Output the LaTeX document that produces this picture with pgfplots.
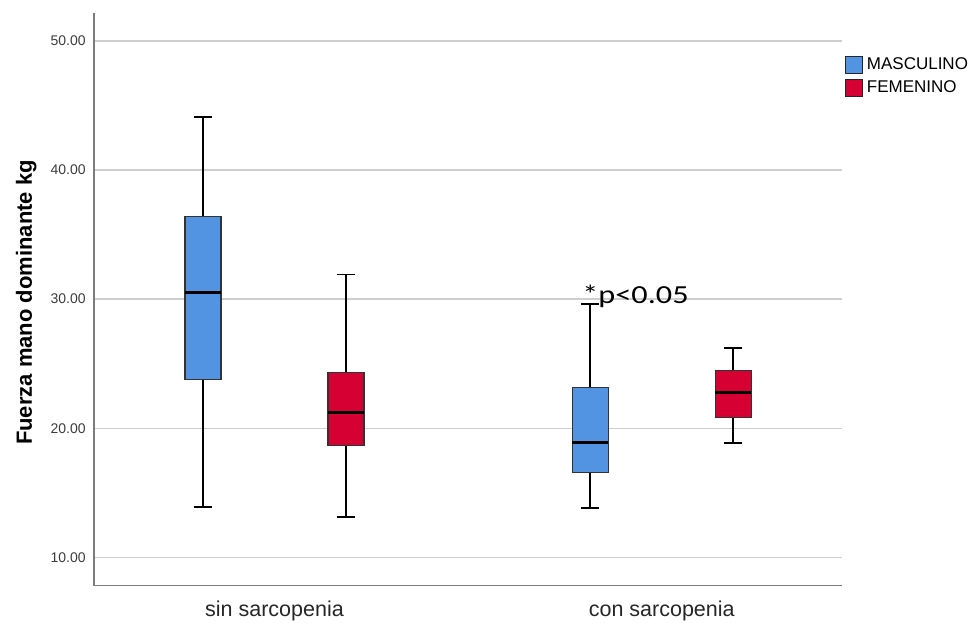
\documentclass[border=0pt]{standalone}
\usepackage{pgfplots}
\pgfplotsset{compat=1.18}
\usepgfplotslibrary{statistics}
\usepackage{fontspec}
\setmainfont{Liberation Sans}
\newfontfamily\annfont[FakeStretch=1.24]{Carlito}

\definecolor{mblue}{RGB}{83,148,226}
\definecolor{fred}{RGB}{214,0,50}
\definecolor{gridgray}{RGB}{206,206,206}
\definecolor{axisgray}{RGB}{125,125,125}
\definecolor{ticktext}{RGB}{60,60,60}

\begin{document}
\begin{tikzpicture}
\path[use as bounding box] (-47pt,-18.15pt) rectangle (439pt,292.85pt);
\begin{axis}[
  scale only axis, width=374pt, height=286.2pt,
  xmin=-0.466, xmax=1.4655, ymin=7.8, ymax=52.15,
  clip=false,
  axis x line*=bottom, axis y line*=left,
  axis line style={axisgray, line width=0.65pt, -},
  xtick={0,1}, xticklabels={sin sarcopenia, con sarcopenia},
  ytick={10,20,30,40,50},
  ymajorgrids, grid style={gridgray, line width=0.7pt},
  tick style={draw=none},
  /pgf/number format/assume math mode=true,
  yticklabel style={/pgf/number format/.cd, fixed, fixed zerofill, precision=2, /tikz/.cd,
    font=\fontsize{7}{8}\selectfont, text=ticktext, anchor=east, inner sep=0pt, xshift=-4pt},
  xticklabel style={font=\fontsize{10.75}{12}\selectfont, text=black!85, anchor=base, inner sep=0pt, yshift=-15.5pt},
  ylabel={Fuerza mano dominante kg},
  ylabel style={font=\bfseries\fontsize{11}{12}\selectfont, at={(axis description cs:-0.0829,0.4948)}, anchor=base, inner sep=0pt},
  boxplot/draw direction=y,
  boxplot/every median/.style={line width=1.5pt, black},
  boxplot/every whisker/.style={line width=0.9pt, black},
  boxplot/every box/.style={draw=black!80, line width=0.55pt},
  legend style={at={(axis description cs:0.996,0.937)}, anchor=north west, draw=none, fill=none,
    font=\fontsize{8.5}{9.5}\selectfont, row sep=0pt,
    /tikz/every even column/.style={column sep=2pt}},
  legend cell align=left,
]
% Masculino, sin sarcopenia
\addplot[fill=mblue, boxplot prepared={draw direction=y, draw position=-0.1846,
  lower whisker=13.9, lower quartile=23.77, median=30.49,
  upper quartile=36.38, upper whisker=44.13,
  box extend=0.093, whisker extend=0.047}, forget plot] coordinates {};
% Femenino, sin sarcopenia
\addplot[fill=fred, boxplot prepared={draw direction=y, draw position=0.1846,
  lower whisker=13.1, lower quartile=18.67, median=21.21,
  upper quartile=24.34, upper whisker=31.91,
  box extend=0.093, whisker extend=0.047}, forget plot] coordinates {};
% Masculino, con sarcopenia
\addplot[fill=mblue, boxplot prepared={draw direction=y, draw position=0.8154,
  lower whisker=13.8, lower quartile=16.59, median=18.91,
  upper quartile=23.18, upper whisker=29.61,
  box extend=0.093, whisker extend=0.047}, forget plot] coordinates {};
% Femenino, con sarcopenia
\addplot[fill=fred, boxplot prepared={draw direction=y, draw position=1.1846,
  lower whisker=18.84, lower quartile=20.85, median=22.79,
  upper quartile=24.5, upper whisker=26.2,
  box extend=0.093, whisker extend=0.047}, forget plot] coordinates {};

\addlegendimage{legend image code/.code={\draw[fill=mblue,draw=black!85,line width=0.5pt] (0pt,-4pt) rectangle (8.25pt,4.25pt);}}
\addlegendentry{MASCULINO}
\addlegendimage{legend image code/.code={\draw[fill=fred,draw=black!85,line width=0.5pt] (0pt,-4pt) rectangle (8.25pt,4.25pt);}}
\addlegendentry{FEMENINO}

\node[anchor=base west, inner sep=0pt, font=\annfont\fontsize{13}{14}\selectfont]
  at (axis cs:0.7942,29.667) {*p<0.05};
\end{axis}
\end{tikzpicture}
\end{document}
